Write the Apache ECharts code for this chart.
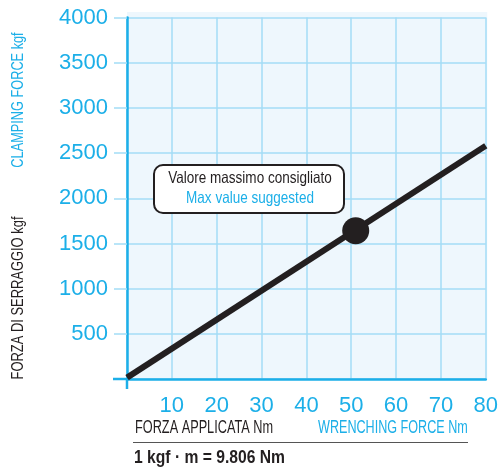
<!DOCTYPE html>
<html><head><meta charset="utf-8">
<script src="https://cdn.jsdelivr.net/npm/echarts@6/dist/echarts.min.js"></script>
<style>html,body{margin:0;padding:0;background:#fff}#c{width:501px;height:469px}</style>
</head><body><div id="c"></div>
<script>
// Data
const xTicks = [0, 10, 20, 30, 40, 50, 60, 70, 80];
const yTicks = [0, 500, 1000, 1500, 2000, 2500, 3000, 3500, 4000];
const lineTorque = [0, 80];          // Nm
const lineForce = [15, 2580];        // kgf
const maxPointTorque = [51];
const maxPointForce = [1640];
const calloutIt = 'Valore massimo consigliato';
const calloutEn = 'Max value suggested';
const yTitleEn = 'CLAMPING FORCE kgf';
const yTitleIt = 'FORZA DI SERRAGGIO kgf';
const xTitleIt = 'FORZA APPLICATA Nm';
const xTitleEn = 'WRENCHING FORCE Nm';
const noteText = '1 kgf \u00b7 m = 9.806 Nm';

const CYAN = '#1cafe8';
const GRID = '#a3ddf6';
const BG = '#eef7fd';
const INK = '#231f20';
const SANS = '"Liberation Sans", Arial, sans-serif';

function condText(x, y, text, color, size, sx, align, rot, weight) {
  return {type: 'text', x: x, y: y, rotation: rot || 0, scaleX: sx, scaleY: 1, z: 21,
    style: {x: 0, y: 0, text: text, fill: color, font: (weight || 'normal') + ' ' + size + 'px ' + SANS,
      textAlign: align, textVerticalAlign: 'middle'}};
}

const chart = echarts.init(document.getElementById('c'), null, {renderer: 'canvas'});
const option = {
  animation: false,
  grid: {left: 127, right: 12.5, top: 17.5, bottom: 90, containLabel: false},
  xAxis: {
    type: 'value', min: xTicks[0], max: xTicks[xTicks.length - 1], interval: 10,
    axisLine: {show: true, onZero: false, lineStyle: {color: CYAN, width: 2.5}},
    axisTick: {show: false},
    splitLine: {show: true, lineStyle: {color: GRID, width: 1.5}},
    axisLabel: {color: CYAN, fontSize: 22, fontFamily: SANS, margin: 16,
      formatter: v => v === 0 ? '' : String(v)}
  },
  yAxis: {
    type: 'value', min: yTicks[0], max: yTicks[yTicks.length - 1], interval: 500,
    axisLine: {show: true, onZero: false, lineStyle: {color: CYAN, width: 2.5}},
    axisTick: {show: true, inside: false, length: 13, lineStyle: {color: GRID, width: 1.5}},
    splitLine: {show: true, lineStyle: {color: GRID, width: 1.5}},
    axisLabel: {color: CYAN, fontSize: 22, fontFamily: SANS, margin: 19,
      formatter: v => v === 0 ? '' : String(v)}
  },
  series: [
    {type: 'line', data: lineTorque.map((x, i) => [x, lineForce[i]]), symbol: 'none',
      lineStyle: {color: INK, width: 6}, z: 5},
    {type: 'scatter', data: maxPointTorque.map((x, i) => [x, maxPointForce[i]]), symbolSize: 27,
      itemStyle: {color: INK, opacity: 1}, z: 6}
  ]
};
chart.setOption(option);

const p00 = chart.convertToPixel({gridIndex: 0}, [0, 0]);
const pTop = chart.convertToPixel({gridIndex: 0}, [80, 4000]);
chart.setOption({
  graphic: [
    {type: 'rect', z: -10, silent: true,
      shape: {x: p00[0], y: pTop[1] - 5.5, width: pTop[0] - p00[0] + 1.5, height: p00[1] - pTop[1] + 5.5},
      style: {fill: BG}},
    {type: 'line', z: 10, shape: {x1: p00[0] - 14, y1: p00[1], x2: p00[0], y2: p00[1]},
      style: {stroke: CYAN, lineWidth: 2.5}},
    {type: 'line', z: 10, shape: {x1: p00[0], y1: p00[1], x2: p00[0], y2: p00[1] + 10},
      style: {stroke: CYAN, lineWidth: 2.5}},
    // callout
    {type: 'rect', z: 20, shape: {x: 154, y: 165, width: 190, height: 48, r: 9},
      style: {fill: '#fff', stroke: INK, lineWidth: 2}},
    condText(250, 178, calloutIt, INK, 16.5, 0.82, 'center'),
    condText(250, 198, calloutEn, CYAN, 16.5, 0.82, 'center'),
    // vertical titles
    condText(18, 100, yTitleEn, CYAN, 17, 0.75, 'center', Math.PI / 2),
    condText(18, 298, yTitleIt, INK, 17, 0.76, 'center', Math.PI / 2),
    // bottom titles
    condText(135, 428, xTitleIt, INK, 18, 0.707, 'left'),
    condText(318, 428, xTitleEn, CYAN, 18, 0.70, 'left'),
    {type: 'line', shape: {x1: 133, y1: 442.5, x2: 468, y2: 442.5}, style: {stroke: '#555', lineWidth: 1}},
    condText(134, 458, noteText, INK, 18, 0.87, 'left', 0, 'bold')
  ]
});
</script></body></html>
